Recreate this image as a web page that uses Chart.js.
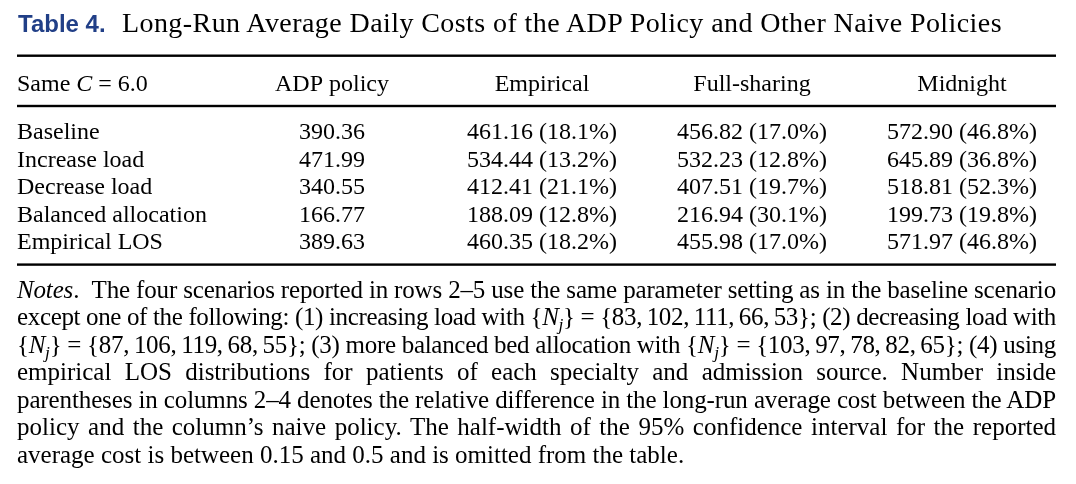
<!DOCTYPE html>
<html>
<head>
<meta charset="utf-8">
<script src="https://cdn.jsdelivr.net/npm/chart.js@4/dist/chart.umd.min.js"></script>
<style>
  html, body { margin:0; padding:0; background:#fff; }
  #wrap { position:relative; width:1076px; height:484px; overflow:hidden; }
  #chartBox { position:absolute; left:0; top:0; width:1076px; height:484px; }
  .abs { position:absolute; white-space:nowrap; color:#000; }
  #t1 { left:18px; top:7.7px; font:bold 24px 'Liberation Sans', Arial, sans-serif; line-height:32px; color:#213f87; }
  #t2 { left:122px; top:6.55px; font:28px 'Liberation Serif', 'Times New Roman', serif; line-height:32px; }
  .note { left:17px; font:25px 'Liberation Serif', 'Times New Roman', serif; height:27.5px; line-height:27.5px; }
  .note sub { font-size:0.7em; vertical-align:-0.28em; line-height:0; }
</style>
</head>
<body>
<div id="wrap">
  <div id="chartBox"><canvas id="c"></canvas></div>
  <div class="abs" id="t1">Table 4.</div>
  <div class="abs" id="t2"><span>Long-Run Average Daily Costs of the ADP Policy and Other Naive Policies</span></div>
  <div id="notes"></div>
</div>
<script>
// ---- data ----
const columns = ['ADP policy', 'Empirical', 'Full-sharing', 'Midnight'];
const scenarios = ['Baseline', 'Increase load', 'Decrease load', 'Balanced allocation', 'Empirical LOS'];
const adpCost = [390.36, 471.99, 340.55, 166.77, 389.63];
const empiricalCost = [461.16, 534.44, 412.41, 188.09, 460.35];
const empiricalDiff = [18.1, 13.2, 21.1, 12.8, 18.2];
const fullSharingCost = [456.82, 532.23, 407.51, 216.94, 455.98];
const fullSharingDiff = [17.0, 12.8, 19.7, 30.1, 17.0];
const midnightCost = [572.90, 645.89, 518.81, 199.73, 571.97];
const midnightDiff = [46.8, 36.8, 52.3, 19.8, 46.8];
const cornerHeader = ['Same ', 'C', ' = 6.0'];

const NJ = '{<i>N</i><sub><i>j</i></sub>}';
const EQ = '\u2005=\u2005';
const noteLines = [
  '<i>Notes</i>.\u2002The four scenarios reported in rows 2\u20135 use the same parameter setting as in the baseline scenario',
  'except one of the following: (1) increasing load with ' + NJ + EQ + '{83,\u2009102,\u2009111,\u200966,\u200953}; (2) decreasing load with',
  NJ + EQ + '{87,\u2009106,\u2009119,\u200968,\u200955}; (3) more balanced bed allocation with ' + NJ + EQ + '{103,\u200997,\u200978,\u200982,\u200965}; (4) using',
  'empirical LOS distributions for patients of each specialty and admission source. Number inside',
  'parentheses in columns 2\u20134 denotes the relative difference in the long-run average cost between the ADP',
  'policy and the column\u2019s naive policy. The half-width of the 95% confidence interval for the reported',
  'average cost is between 0.15 and 0.5 and is omitted from the table.'
];

// ---- notes (justified lines) ----
const notesEl = document.getElementById('notes');
const LEFT = 17, RIGHT = 1056;
noteLines.forEach((html, i) => {
  const d = document.createElement('div');
  d.className = 'abs note';
  d.style.top = (275.8 + i * 27.5) + 'px';
  const s = document.createElement('span');
  s.innerHTML = html;
  d.appendChild(s);
  notesEl.appendChild(d);
  if (i < noteLines.length - 1) {
    const w = s.getBoundingClientRect().width;
    const n = (s.textContent.match(/ /g) || []).length;
    const extra = RIGHT - LEFT - w;
    if (extra >= 0) {
      s.style.wordSpacing = (extra / n) + 'px';
    } else {
      s.style.letterSpacing = (extra / s.textContent.length) + 'px';
    }
  }
});
// title fit
(function(){
  const s = document.querySelector('#t2 span');
  const w = s.getBoundingClientRect().width;
  const n = s.textContent.length;
  s.style.letterSpacing = ((1002 - 122 - w) / n) + 'px';
})();

// ---- chart ----
const costs = [adpCost, empiricalCost, fullSharingCost, midnightCost];
const diffs = [null, empiricalDiff, fullSharingDiff, midnightDiff];
const datasets = columns.map((col, c) => ({
  label: col,
  data: scenarios.map((s, r) => ({ x: col, y: s, v: costs[c][r], d: diffs[c] ? diffs[c][r] : null })),
  pointRadius: 0, pointHoverRadius: 0, showLine: false
}));

const FONT = "24px 'Liberation Serif', 'Times New Roman', serif";
const IFONT = "italic 24px 'Liberation Serif', 'Times New Roman', serif";

const tablePlugin = {
  id: 'tableText',
  afterDatasetsDraw(chart) {
    const ctx = chart.ctx;
    const xs = chart.scales.x, ys = chart.scales.y;
    ctx.save();
    ctx.fillStyle = '#000';
    // rules
    ctx.fillRect(17, 54.5, 1039, 2.4);
    ctx.fillRect(17, 104.8, 1039, 2.4);
    ctx.fillRect(17, 263.4, 1039, 2.4);
    ctx.textBaseline = 'alphabetic';
    const headY = 91;
    // corner header
    ctx.textAlign = 'left';
    let x = 17;
    cornerHeader.forEach((part, k) => {
      ctx.font = k === 1 ? IFONT : FONT;
      ctx.fillText(part, x, headY);
      x += ctx.measureText(part).width;
    });
    // column headers
    ctx.font = FONT;
    ctx.textAlign = 'center';
    columns.forEach((col, c) => ctx.fillText(col, xs.getPixelForValue(c), headY));
    // row labels
    ctx.textAlign = 'left';
    scenarios.forEach((s, r) => ctx.fillText(s, 17, ys.getPixelForValue(r)));
    // cells
    ctx.textAlign = 'center';
    chart.data.datasets.forEach((ds, c) => {
      const meta = chart.getDatasetMeta(c);
      meta.data.forEach((pt, r) => {
        const raw = ds.data[r];
        const txt = raw.d == null ? raw.v.toFixed(2) : raw.v.toFixed(2) + ' (' + raw.d.toFixed(1) + '%)';
        ctx.fillText(txt, pt.x, pt.y);
      });
    });
    ctx.restore();
  }
};

new Chart(document.getElementById('c'), {
  type: 'scatter',
  data: { datasets },
  options: {
    responsive: true, maintainAspectRatio: false, animation: false, events: [],
    layout: { padding: { left: 227, right: 9, top: 125.25, bottom: 221.25 } },
    plugins: { legend: { display: false }, tooltip: { enabled: false } },
    scales: {
      x: { type: 'category', labels: columns, offset: true, display: false },
      y: { type: 'category', labels: scenarios, offset: true, display: false }
    }
  },
  plugins: [tablePlugin]
});
</script>
</body>
</html>
